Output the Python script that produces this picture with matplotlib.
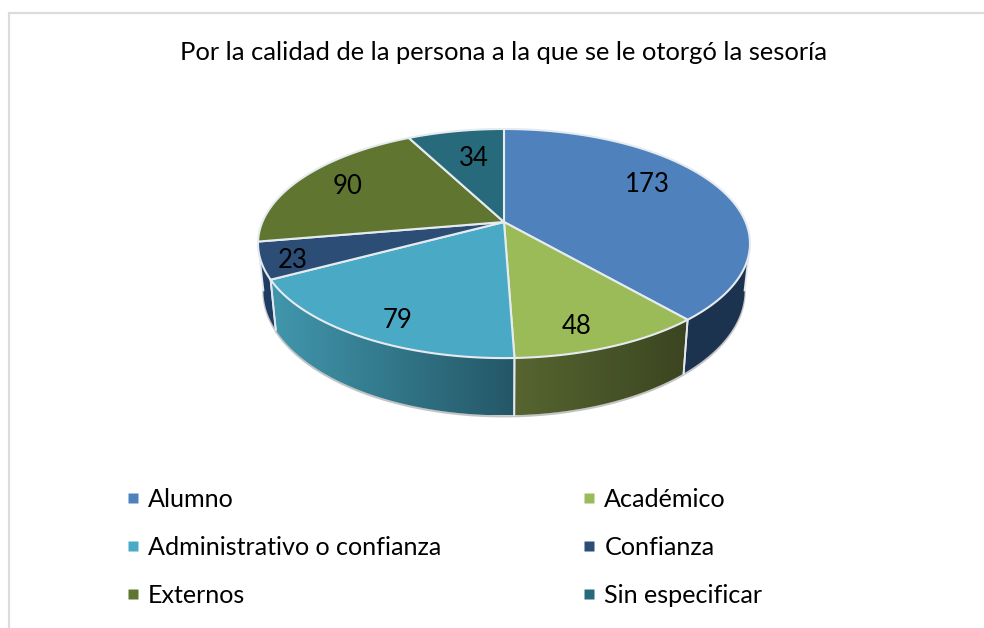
import numpy as np
import matplotlib
matplotlib.use("Agg")
import matplotlib.pyplot as plt
from matplotlib.patches import Polygon
from matplotlib.colors import LinearSegmentedColormap

plt.rcParams['font.family'] = ['Lato', 'DejaVu Sans']

categories = ["Alumno", "Académico", "Administrativo o confianza", "Confianza", "Externos", "Sin especificar"]
values = [173, 48, 79, 23, 90, 34]
colors = ["#4f81bd", "#9bbb59", "#4aa9c4", "#2c4d75", "#5f7530", "#276a7c"]
side_left = ["#1c3350", "#566530", "#4197ad", "#1f3d63", "#3f4f20", "#1a4753"]
side_right = ["#1c3350", "#3b4520", "#245767", "#1f3d63", "#3f4f20", "#1a4753"]
title = "Por la calidad de la persona a la que se le otorgó la sesoría"

# where the numbers sit, in pixels
label_xy = [(647, 185), (577, 326), (398, 321), (293, 261), (348, 187), (474, 158)]

# projection of the pie circle onto the picture
cx, cy = 504, 222
rx, ry = 241.6, 110.5
k = 0.188
side_sx, side_sy = 0.978, 1.09
side_cy = 267
right_tangent, left_tangent = 100.8, 259.2


def top_face(theta):
    u = np.sin(np.radians(theta))
    v = np.cos(np.radians(theta))
    d = 1 + k * v
    return cx + rx * u / d, cy - ry * v / d


def bottom_face(theta):
    x, y = top_face(theta)
    return cx + (x - cx) * side_sx, side_cy + (y - cy) * side_sy


fig = plt.figure(figsize=(9.84, 6.28), dpi=100)
ax = fig.add_axes([0, 0, 1, 1])
ax.set_xlim(0, 984)
ax.set_ylim(628, 0)
ax.axis("off")

# chart frame, runs off the right and bottom of the picture
ax.plot([9, 9, 984], [628, 12.5, 12.5], color="#dcdcdc", lw=1.6, solid_joinstyle="miter")

bounds = np.concatenate([[0], np.cumsum(values)]) / sum(values) * 360

# outer shadow under the side wall
t = np.linspace(right_tangent, left_tangent, 200)
sx, sy = bottom_face(t)
ax.plot(sx, sy + 1, color="#c4c4c4", lw=1.6, zorder=1)

# side wall
for i in range(len(values)):
    a = max(bounds[i], right_tangent)
    b = min(bounds[i + 1], left_tangent)
    if b <= a:
        continue
    t = np.linspace(a, b, 80)
    x1, y1 = top_face(t)
    x2, y2 = bottom_face(t)
    xs = np.concatenate([x1, x2[::-1]])
    ys = np.concatenate([y1, y2[::-1]])
    poly = Polygon(np.column_stack([xs, ys]), closed=True, fc="none", ec="none", zorder=2)
    ax.add_patch(poly)
    cmap = LinearSegmentedColormap.from_list("s", [side_left[i], side_right[i]])
    grad = np.linspace(0, 1, 256).reshape(1, -1)
    im = ax.imshow(grad, extent=[xs.min(), xs.max(), ys.max(), ys.min()], cmap=cmap, aspect="auto", zorder=2)
    im.set_clip_path(poly)
    ax.plot([x1[0], x2[0]], [y1[0], y2[0]], color="#e4e8ee", lw=1.3, zorder=3)
    ax.plot([x1[-1], x2[-1]], [y1[-1], y2[-1]], color="#e4e8ee", lw=1.3, zorder=3)

ax.set_xlim(0, 984)
ax.set_ylim(628, 0)

# top face
for i in range(len(values)):
    t = np.linspace(bounds[i], bounds[i + 1], 200)
    x, y = top_face(t)
    xs = np.concatenate([[cx], x])
    ys = np.concatenate([[cy], y])
    ax.fill(xs, ys, fc=colors[i], ec="#e6ebf0", lw=1.5, joinstyle="round", zorder=4)

for v, (x, y) in zip(values, label_xy):
    ax.text(x, y, str(v), ha="center", va="center", fontsize=18.5, color="black", zorder=5)

ax.text(503.5, 53, title, ha="center", va="center", fontsize=18.33, color="black")

# legend, matplotlib fills columns first
order = [0, 2, 4, 1, 3, 5]
handles = [plt.Line2D([], [], ls="none", marker="s", ms=7.2, mfc=colors[i], mec="none") for i in order]
ax.legend(handles, [categories[i] for i in order], ncol=2, frameon=False, fontsize=18.1,
          loc="upper left", bbox_to_anchor=(123 / 984, 1 - 488 / 628), borderaxespad=0, borderpad=0,
          handlelength=0.8, handletextpad=0.2, labelspacing=1.0, columnspacing=5.48)

fig.savefig("out.png", dpi=100)
